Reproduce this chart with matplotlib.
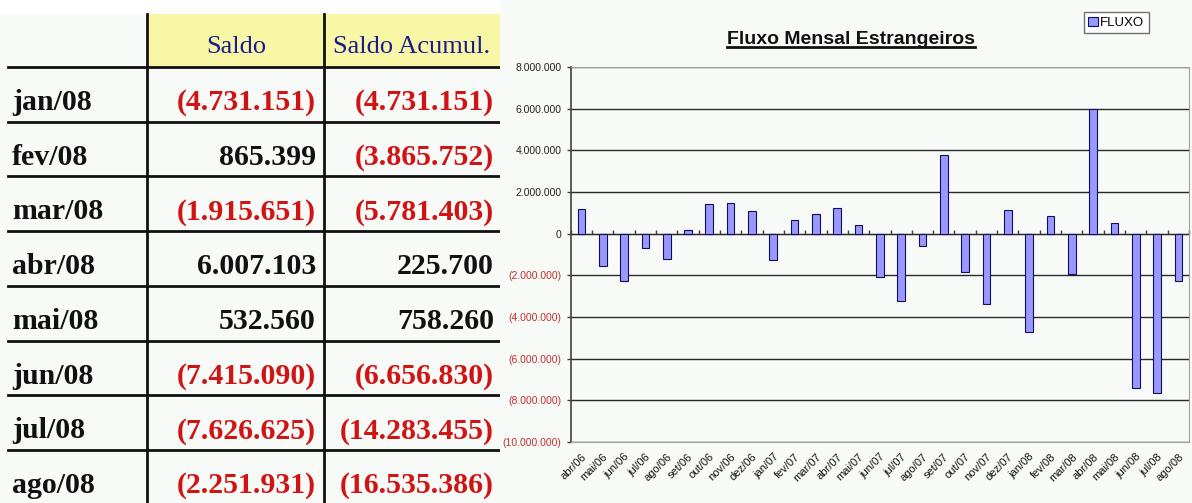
import matplotlib
matplotlib.use('Agg')
import matplotlib.pyplot as plt
from matplotlib.patches import Rectangle
from matplotlib.lines import Line2D
from matplotlib.ticker import FuncFormatter, FixedLocator

#table data (left side)
table_months = ['jan/08', 'fev/08', 'mar/08', 'abr/08', 'mai/08', 'jun/08', 'jul/08', 'ago/08']
saldo = [-4731151, 865399, -1915651, 6007103, 532560, -7415090, -7626625, -2251931]
saldo_acum = [-4731151, -3865752, -5781403, 225700, 758260, -6656830, -14283455, -16535386]

#monthly flow (bar chart)
months = ['abr/06', 'mai/06', 'jun/06', 'jul/06', 'ago/06', 'set/06', 'out/06', 'nov/06', 'dez/06',
          'jan/07', 'fev/07', 'mar/07', 'abr/07', 'mai/07', 'jun/07', 'jul/07', 'ago/07', 'set/07',
          'out/07', 'nov/07', 'dez/07', 'jan/08', 'fev/08', 'mar/08', 'abr/08', 'mai/08', 'jun/08',
          'jul/08', 'ago/08']
fluxo = [1180000, -1530000, -2290000, -670000, -1230000, 190000, 1440000, 1490000, 1090000,
         -1280000, 640000, 930000, 1230000, 420000, -2080000, -3230000, -610000, 3790000,
         -1840000, -3370000, 1140000, -4731151, 865399, -1915651, 6007103, 532560, -7415090,
         -7626625, -2251931]

RED = '#d01414'
BG = '#f8faf8'


def br_number(v):
  #brazilian thousands separator, negatives in parentheses
  s = '{:,}'.format(abs(int(round(v)))).replace(',', '.')
  if v < 0:
    return '(' + s + ')'
  return s


def draw_table(fig):
  tab = fig.add_axes([0, 0, 500 / 1192, 1])
  tab.set_xlim(0, 500)
  tab.set_ylim(503, 0)
  tab.axis('off')

  tab.add_patch(Rectangle((0, 0), 500, 14, facecolor='white', edgecolor='none'))
  tab.add_patch(Rectangle((147, 14), 353, 53, facecolor='#f7f7a6', edgecolor='none'))

  serif = 'Liberation Serif'
  tab.text(236, 53, 'Saldo', ha='center', va='baseline', fontsize=19,
           family=serif, color='#1c1c8c')
  tab.text(412, 53, 'Saldo Acumul.', ha='center', va='baseline', fontsize=19,
           family=serif, color='#1c1c8c')

  row_h = 54.7
  for i in range(len(table_months)):
    top = 67 + i * row_h
    tab.add_line(Line2D([8, 500], [top, top], color='#111111', lw=2))
    base = top + 43
    tab.text(12, base, table_months[i], ha='left', va='baseline', fontsize=21.5,
             family=serif, weight='bold', color='#111111')
    for x, v in [(316, saldo[i]), (494, saldo_acum[i])]:
      tab.text(x, base, br_number(v), ha='right', va='baseline', fontsize=21.5,
               family=serif, weight='bold', color=RED if v < 0 else '#111111')

  for x in [147, 324]:
    tab.add_line(Line2D([x, x], [14, 503], color='#111111', lw=2))


def draw_chart(fig):
  sans = 'Liberation Sans'
  ax = fig.add_axes([0.4788, 0.1213, 0.5187, 0.7455])
  ax.set_facecolor(BG)

  pos = list(range(len(months)))
  bars = ax.bar(pos, fluxo, width=0.36, color='#9999ff', edgecolor='#10105a',
                linewidth=0.8, zorder=3, label='FLUXO')

  ax.set_xlim(-0.5, len(months) - 0.5)
  ax.set_ylim(-10000000, 8000000)
  ax.yaxis.set_major_locator(FixedLocator(range(-10000000, 8000001, 2000000)))
  ax.yaxis.set_major_formatter(FuncFormatter(lambda v, p: br_number(v)))
  ax.grid(axis='y', color='#2a2a2a', lw=1, zorder=1)

  ax.set_xticks(pos)
  ax.set_xticklabels(months, rotation=45, ha='right', rotation_mode='anchor',
                     fontsize=8, family=sans, color='#111111')
  ax.tick_params(axis='x', length=0, pad=7)
  ax.tick_params(axis='y', length=3, width=1, color='#404040', pad=3.5)
  for lab in ax.get_yticklabels():
    lab.set_family(sans)
    lab.set_fontsize(7.5)
    if lab.get_text().startswith('('):
      lab.set_color('#c03030')
    else:
      lab.set_color('#222222')

  for s in ['top', 'right', 'bottom']:
    ax.spines[s].set_color('#a0a0a0')
  ax.spines['left'].set_color('#404040')
  ax.spines['left'].set_linewidth(1.2)

  #category axis crossing at zero, with ticks between categories
  zero = ax.secondary_xaxis(10 / 18)
  zero.set_xticks([p + 0.5 for p in range(-1, len(months))])
  zero.set_xticklabels([])
  zero.tick_params(length=3, width=1, color='#404040', direction='out')
  zero.spines['bottom'].set_visible(False)

  title = fig.text(851 / 1192, 1 - 44 / 503, 'Fluxo Mensal Estrangeiros', ha='center',
                   va='baseline', fontsize=14, weight='bold', family=sans, color='#111111')
  fig.canvas.draw()
  bb = title.get_window_extent().transformed(fig.transFigure.inverted())
  fig.add_artist(Line2D([bb.x0, bb.x1], [1 - 47 / 503, 1 - 47 / 503], color='#111111',
                        lw=2, transform=fig.transFigure))

  leg = fig.legend(handles=[bars], labels=['FLUXO'], loc='upper right',
                   bbox_to_anchor=(1149 / 1192, 1 - 12 / 503),
                   prop={'family': sans, 'size': 9.5}, handlelength=0.7, handleheight=0.7,
                   handletextpad=0.2, borderpad=0.35, borderaxespad=0, fancybox=False,
                   framealpha=1)
  leg.get_frame().set_edgecolor('#707070')
  leg.get_frame().set_facecolor('white')
  leg.get_frame().set_linewidth(1)


def main():
  fig = plt.figure(figsize=(11.92, 5.03), dpi=100, facecolor=BG)
  draw_table(fig)
  draw_chart(fig)
  fig.savefig('out.png', dpi=100, facecolor=BG)


if __name__ == '__main__':
  main()
